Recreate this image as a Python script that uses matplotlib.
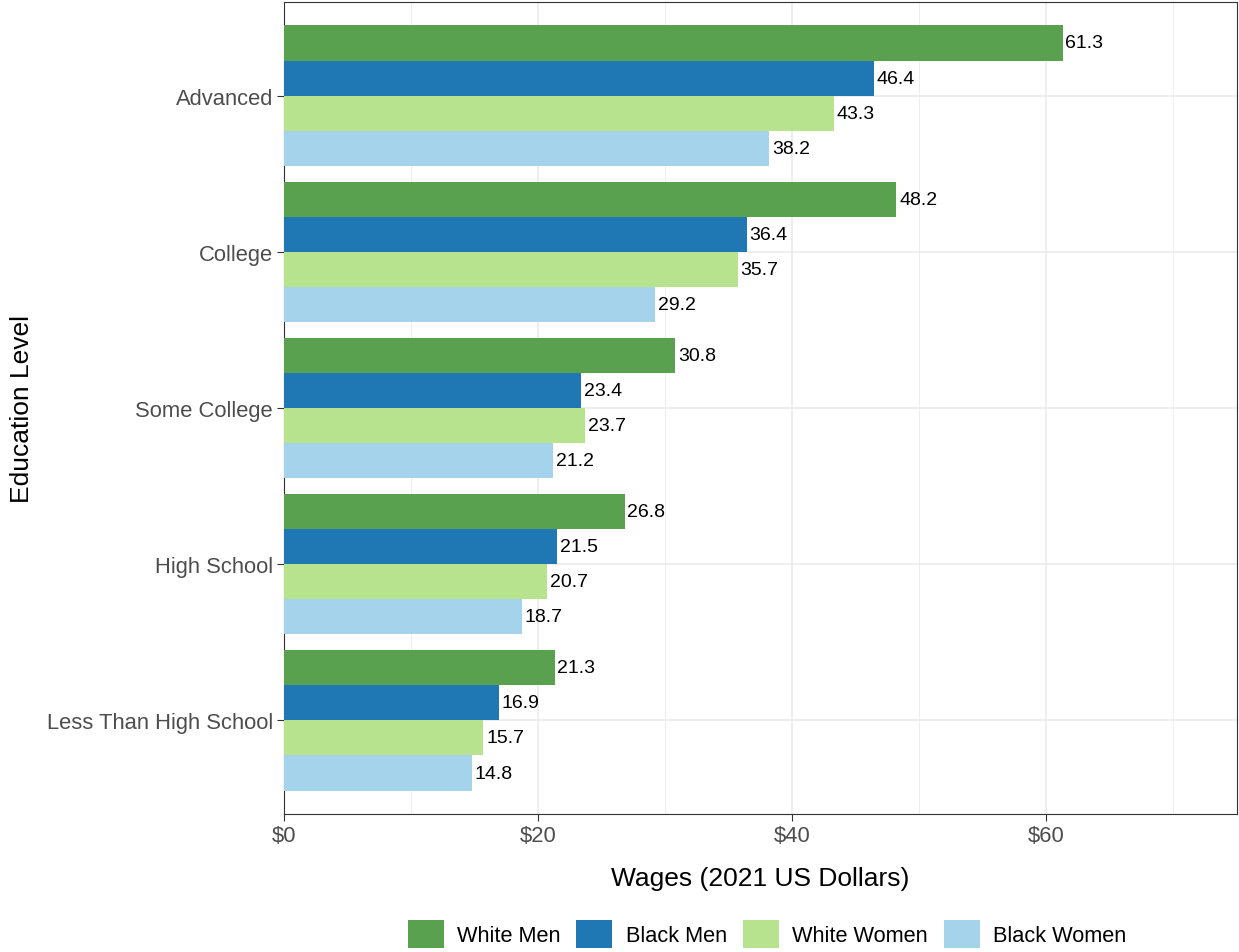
import numpy as np
import matplotlib
matplotlib.use("Agg")
import matplotlib.pyplot as plt
from matplotlib.patches import Patch

plt.rcParams['font.family'] = ['Liberation Sans', 'DejaVu Sans']

# data
levels = ["Advanced", "College", "Some College", "High School", "Less Than High School"]
groups = ["White Men", "Black Men", "White Women", "Black Women"]
white_men = [61.3, 48.2, 30.8, 26.8, 21.3]
black_men = [46.4, 36.4, 23.4, 21.5, 16.9]
white_women = [43.3, 35.7, 23.7, 20.7, 15.7]
black_women = [38.2, 29.2, 21.2, 18.7, 14.8]
colors = ["#59A14F", "#1F78B4", "#B8E38E", "#A6D3EC"]

series = [white_men, black_men, white_women, black_women]

fig = plt.figure(figsize=(12.39, 9.53), dpi=100)
ax = fig.add_axes([284 / 1239, 1 - 815 / 953, (1237 - 284) / 1239, (815 - 3) / 953])

pos = np.arange(len(levels))
bar_h = 0.9 / len(groups)
for i, (vals, col) in enumerate(zip(series, colors)):
    y = pos - 0.45 + bar_h * (i + 0.5)
    ax.barh(y, vals, height=bar_h, color=col, zorder=3)
    for yy, v in zip(y, vals):
        ax.text(v + 0.2, yy, f"{v:.1f}", ha="left", va="center", fontsize=14, color="black", zorder=4)

ax.set_ylim(len(levels) - 1 + 0.6, -0.6)
ax.set_xlim(0, 75)
ax.set_yticks(pos)
ax.set_yticklabels(levels)
ax.set_xticks([0, 20, 40, 60])
ax.set_xticklabels(["$0", "$20", "$40", "$60"])
ax.set_xticks([10, 30, 50, 70], minor=True)

ax.grid(True, which="major", color="#EBEBEB", linewidth=1.2, zorder=0)
ax.grid(True, which="minor", axis="x", color="#EBEBEB", linewidth=0.6, zorder=0)
ax.set_axisbelow(True)

for s in ax.spines.values():
    s.set_color("#333333")
    s.set_linewidth(0.8)
ax.tick_params(axis="both", which="major", colors="#333333", length=5, width=0.8,
               labelsize=15.8, labelcolor="#4D4D4D", pad=3)
ax.tick_params(axis="x", which="minor", length=0)

ax.set_xlabel("Wages (2021 US Dollars)", fontsize=19, labelpad=14)
ax.set_ylabel("Education Level", fontsize=19, labelpad=9)

handles = [Patch(facecolor=c, edgecolor="none") for c in colors]
fig.legend(handles, groups, loc="center", bbox_to_anchor=(0.619, 18 / 953),
           ncol=4, frameon=False, fontsize=15.7, handlelength=1.65, handleheight=1.65,
           handletextpad=0.6, columnspacing=0.75)

fig.savefig("out.png", dpi=100)
